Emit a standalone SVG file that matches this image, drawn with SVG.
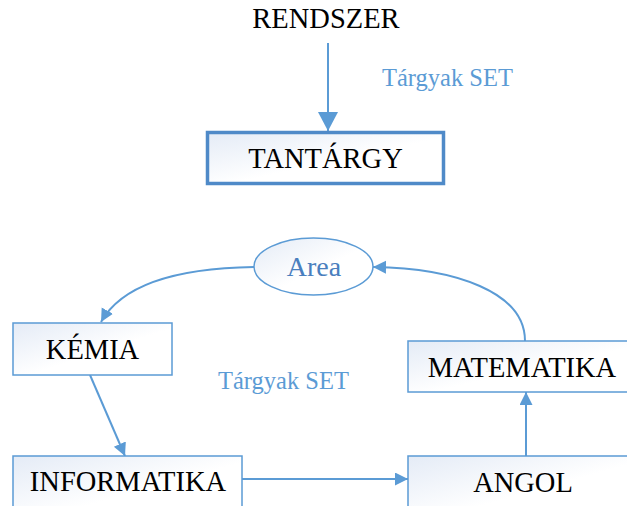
<svg xmlns="http://www.w3.org/2000/svg" width="627" height="506" viewBox="0 0 627 506">
  <style>
    .box { fill: url(#boxFill); stroke: #5b9bd5; stroke-width: 1.5; }
    .box-main { fill: url(#boxFill); stroke: #4f8ac8; stroke-width: 3.5; }
    .label { font-family: 'Liberation Serif', 'Times New Roman', serif; font-size: 28.5px; fill: #000; text-anchor: middle; }
    .note { font-family: 'Liberation Serif', 'Times New Roman', serif; font-size: 24.5px; fill: #5b9bd5; }
    .area-text { font-family: 'Liberation Serif', 'Times New Roman', serif; font-size: 28px; fill: #4a7fbe; text-anchor: middle; }
    .link { fill: none; stroke: #5b9bd5; stroke-width: 2; }
  </style>
  <defs>
    <linearGradient id="boxFill" x1="0" y1="0" x2="1" y2="1">
      <stop offset="0" stop-color="#e4ebf6"/>
      <stop offset="0.55" stop-color="#ffffff"/>
      <stop offset="1" stop-color="#ffffff"/>
    </linearGradient>
    <marker id="arrow" markerUnits="userSpaceOnUse" markerWidth="14" markerHeight="14" refX="13" refY="6.5" orient="auto">
      <path d="M0,0 L13,6.5 L0,13 z" fill="#5b9bd5"/>
    </marker>
    <marker id="arrowBig" markerUnits="userSpaceOnUse" markerWidth="20" markerHeight="21" refX="19" refY="10" orient="auto">
      <path d="M0,0 L19,10 L0,20 z" fill="#5b9bd5"/>
    </marker>
  </defs>

  <!-- connectors -->
  <g id="connectors">
    <path class="link" d="M328,43 L328,131" marker-end="url(#arrowBig)"/>
    <path class="link" d="M254,267 C185,268 124,281 101,322" marker-end="url(#arrow)"/>
    <path class="link" d="M90,375 L125,456" marker-end="url(#arrow)"/>
    <path class="link" d="M242,479 L408,479" marker-end="url(#arrow)"/>
    <path class="link" d="M526,456 L526,392" marker-end="url(#arrow)"/>
    <path class="link" d="M525,341 C525,292 455,268 373,267" marker-end="url(#arrow)"/>
  </g>

  <!-- relation labels -->
  <text class="note" x="382" y="86">Tárgyak SET</text>
  <text class="note" x="218" y="389">Tárgyak SET</text>

  <g id="rendszer">
    <text class="label" x="326" y="28">RENDSZER</text>
  </g>

  <g id="tantargy">
    <rect class="box-main" x="207.5" y="132.5" width="236" height="51"/>
    <text class="label" x="325.5" y="168">TANTÁRGY</text>
  </g>

  <g id="area">
    <ellipse class="box" cx="313.5" cy="266.5" rx="59.5" ry="28.5"/>
    <text class="area-text" x="314" y="276">Area</text>
  </g>

  <g id="kemia">
    <rect class="box" x="13" y="323" width="159" height="52"/>
    <text class="label" x="92.5" y="359">KÉMIA</text>
  </g>

  <g id="matematika">
    <rect class="box" x="408" y="341" width="228" height="51"/>
    <text class="label" x="522" y="377">MATEMATIKA</text>
  </g>

  <g id="informatika">
    <rect class="box" x="13" y="456" width="229" height="64"/>
    <text class="label" x="128" y="491">INFORMATIKA</text>
  </g>

  <g id="angol">
    <rect class="box" x="408" y="456" width="228" height="64"/>
    <text class="label" x="523" y="492">ANGOL</text>
  </g>
</svg>
